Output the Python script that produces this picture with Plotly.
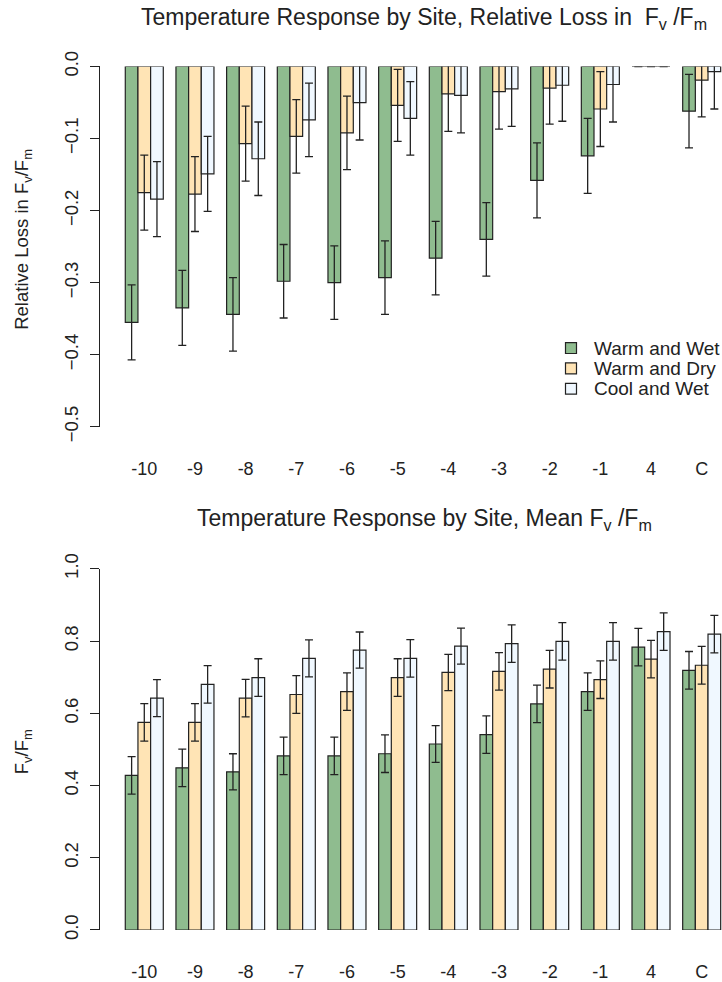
import plotly.graph_objects as go

# ---------------- data ----------------
sites = ["-10", "-9", "-8", "-7", "-6", "-5", "-4", "-3", "-2", "-1", "4", "C"]
series_names = ["Warm and Wet", "Warm and Dry", "Cool and Wet"]

loss_warm_wet = [-0.355, -0.335, -0.344, -0.298, -0.300, -0.293, -0.266, -0.240, -0.158, -0.124, 0.0, -0.062]
loss_warm_dry = [-0.175, -0.177, -0.107, -0.097, -0.092, -0.054, -0.038, -0.035, -0.030, -0.059, 0.0, -0.019]
loss_cool_wet = [-0.184, -0.149, -0.128, -0.074, -0.050, -0.072, -0.040, -0.031, -0.026, -0.025, 0.0, -0.007]
loss_err_warm_wet = [0.052, 0.052, 0.051, 0.051, 0.051, 0.051, 0.051, 0.051, 0.052, 0.052, 0.0, 0.051]
loss_err_warm_dry = [0.052, 0.052, 0.052, 0.051, 0.051, 0.050, 0.052, 0.052, 0.050, 0.052, 0.0, 0.051]
loss_err_cool_wet = [0.052, 0.052, 0.051, 0.051, 0.052, 0.051, 0.052, 0.052, 0.050, 0.052, 0.0, 0.052]

mean_warm_wet = [0.428, 0.449, 0.438, 0.482, 0.482, 0.488, 0.515, 0.541, 0.626, 0.660, 0.783, 0.719]
mean_warm_dry = [0.575, 0.575, 0.642, 0.652, 0.660, 0.699, 0.713, 0.716, 0.722, 0.693, 0.750, 0.733]
mean_cool_wet = [0.642, 0.680, 0.699, 0.752, 0.775, 0.752, 0.786, 0.793, 0.799, 0.799, 0.826, 0.819]
mean_err_warm_wet = [0.052, 0.052, 0.050, 0.052, 0.052, 0.052, 0.051, 0.052, 0.052, 0.052, 0.052, 0.052]
mean_err_warm_dry = [0.052, 0.052, 0.052, 0.052, 0.052, 0.052, 0.050, 0.052, 0.052, 0.052, 0.052, 0.052]
mean_err_cool_wet = [0.051, 0.052, 0.052, 0.051, 0.050, 0.052, 0.050, 0.052, 0.052, 0.052, 0.052, 0.052]

loss_ticks = [0.0, -0.1, -0.2, -0.3, -0.4, -0.5]
mean_ticks = [0.0, 0.2, 0.4, 0.6, 0.8, 1.0]

colors = ["#8FBC8F", "#FFE4B5", "#F0F8FF"]
FONT = "Liberation Sans, Arial, sans-serif"
INK = "#222222"

# page geometry (pixels) -> paper coordinates
W, H = 722, 982
ML, MR, MT, MB = 100, 0, 66, 46
PW, PH = W - ML - MR, H - MT - MB


def px(xp):
    return (xp - ML) / PW


def py(yp):
    return (H - MB - yp) / PH


fig = go.Figure()

loss_vals = [loss_warm_wet, loss_warm_dry, loss_cool_wet]
loss_errs = [loss_err_warm_wet, loss_err_warm_dry, loss_err_cool_wet]
mean_vals = [mean_warm_wet, mean_warm_dry, mean_cool_wet]
mean_errs = [mean_err_warm_wet, mean_err_warm_dry, mean_err_cool_wet]

for name, col, v, e in zip(series_names, colors, loss_vals, loss_errs):
    fig.add_trace(go.Bar(
        x=sites, y=v, name=name, xaxis="x", yaxis="y",
        marker=dict(color=col, line=dict(color=INK, width=1.2)),
        error_y=dict(type="data", array=e, visible=True, color=INK, thickness=1.3, width=4),
        cliponaxis=False, showlegend=False,
    ))

for name, col, v, e in zip(series_names, colors, mean_vals, mean_errs):
    fig.add_trace(go.Bar(
        x=sites, y=v, name=name, xaxis="x2", yaxis="y2",
        marker=dict(color=col, line=dict(color=INK, width=1.2)),
        error_y=dict(type="data", array=e, visible=True, color=INK, thickness=1.3, width=4),
        cliponaxis=False, showlegend=False,
    ))

xrange = [-0.874, 11.401]
xcommon = dict(type="category", range=xrange, showline=False, ticks="", showgrid=False,
               zeroline=False, tickfont=dict(family=FONT, size=18, color=INK),
               ticklabelstandoff=29)
ycommon = dict(showline=True, linecolor=INK, linewidth=1, ticks="outside", ticklen=9,
               tickcolor=INK, tickwidth=1, showgrid=False, zeroline=False, tickangle=-90,
               tickfont=dict(family=FONT, size=18.5, color=INK), tickformat=".1f",
               ticklabelstandoff=5)

# manual legend (R style: boxes with compact spacing)
legend_rows_px = [350, 370.5, 391]
shapes = []
annotations = []
for name, col, yr in zip(series_names, colors, legend_rows_px):
    shapes.append(dict(type="rect", xref="paper", yref="paper",
                       x0=px(565.5), x1=px(576.5), y0=py(yr + 5.5), y1=py(yr - 5.5),
                       fillcolor=col, line=dict(color=INK, width=1.2)))
    annotations.append(dict(text=name, x=px(592), y=py(yr), xref="paper", yref="paper",
                            xanchor="left", yanchor="middle", showarrow=False,
                            font=dict(family=FONT, size=19, color=INK)))

annotations += [
    dict(text="Temperature Response by Site, Relative Loss in  F<sub>v</sub> /F<sub>m</sub>",
         x=px(424.5), y=py(18), xref="paper", yref="paper", xanchor="center", yanchor="middle",
         showarrow=False, font=dict(family=FONT, size=23, color=INK)),
    dict(text="Temperature Response by Site, Mean F<sub>v</sub> /F<sub>m</sub>",
         x=px(424), y=py(523), xref="paper", yref="paper", xanchor="center", yanchor="middle",
         showarrow=False, font=dict(family=FONT, size=23, color=INK)),
    dict(text="Relative Loss in F<sub>v</sub>/F<sub>m</sub>",
         x=px(23), y=py(241), xref="paper", yref="paper", xanchor="center", yanchor="middle",
         textangle=-90, showarrow=False, font=dict(family=FONT, size=18.5, color=INK)),
    dict(text="F<sub>v</sub>/F<sub>m</sub>",
         x=px(23), y=py(757), xref="paper", yref="paper", xanchor="center", yanchor="middle",
         textangle=-90, showarrow=False, font=dict(family=FONT, size=18.5, color=INK)),
]

fig.update_layout(
    width=W, height=H,
    margin=dict(l=ML, r=MR, t=MT, b=MB),
    paper_bgcolor="white", plot_bgcolor="white",
    barmode="group", bargap=0.25, bargroupgap=0.0,
    font=dict(family=FONT, color=INK),
    xaxis=dict(domain=[0, 1], anchor="y", **xcommon),
    yaxis=dict(domain=[py(429.3), py(66.5)], anchor="x", range=[-0.5, 0.0], tickvals=loss_ticks, **ycommon),
    xaxis2=dict(domain=[0, 1], anchor="y2", **xcommon),
    yaxis2=dict(domain=[py(936), py(572.3)], anchor="x2", range=[0.0, 1.0], tickvals=mean_ticks, **ycommon),
    showlegend=False,
    shapes=shapes,
    annotations=annotations,
)

fig.write_html("out.html")
